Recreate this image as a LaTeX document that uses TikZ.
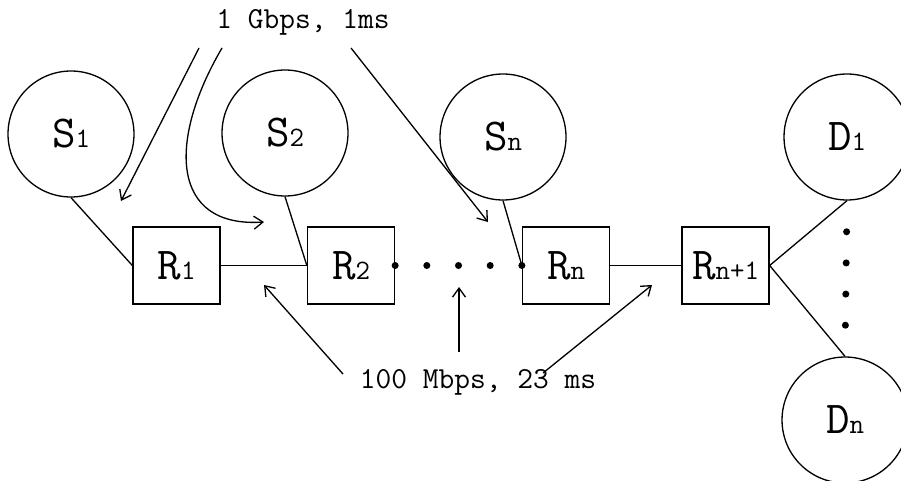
\documentclass[tikz,border=0pt]{standalone}
\usepackage{fontspec}
\usetikzlibrary{calc, arrows.meta}

\tikzset{
  host/.style={draw, circle, minimum size=2.52cm, inner sep=0pt},
  router/.style={draw, rectangle, minimum width=1.74cm, minimum height=1.54cm, inner sep=0pt},
  lbl/.style={font=\ttfamily\fontsize{17.4}{20}\selectfont},
  note/.style={-{Straight Barb[length=1.8mm, width=2.6mm]}},
}
\newcommand{\nodename}[2]{{\ttfamily\fontsize{26}{30}\selectfont #1}{\ttfamily\fontsize{16}{19}\selectfont #2}}

\begin{document}
\begin{tikzpicture}[x=0.02cm, y=-0.02cm, line width=0.75pt]
    \useasboundingbox (0,0) rectangle (901,480);
    % 源节点
    \node[host] (s1) at (71,134) {\nodename{S}{1}};
    \node[host] (s2) at (285,133) {\nodename{S}{2}};
    \node[host] (sn) at (503,137) {\nodename{S}{n}};
    % 路由器
    \node[router] (r1) at (176.5,265.5) {\nodename{R}{1}};
    \node[router] (r2) at (351,265.5) {\nodename{R}{2}};
    \node[router] (rn) at (566,265.5) {\nodename{R}{n}};
    \node[router] (rn1) at (725.5,265.5) {\nodename{R}{n+1}};
    % 目的节点
    \node[host] (d1) at (847,137) {\nodename{D}{1}};
    \node[host] (dn) at (845,420) {\nodename{D}{n}};
    % 链路
    \draw (s1.south) -- (r1.west);
    \draw (s2.south) -- (r2.west);
    \draw (sn.south) -- (rn.west);
    \draw (r1.east) -- (r2.west);
    \draw (rn.east) -- (rn1.west);
    \draw (rn1.east) -- (d1.south);
    \draw (rn1.east) -- (dn.north);
    % 省略号
    \foreach \t in {0,0.25,...,1} {
      \fill ($(r2.east)!\t!(rn.west)$) circle[radius=2pt];
    }
    \foreach \t in {0.2,0.4,...,0.8} {
      \fill ($(d1.south)!\t!(dn.north)$) circle[radius=2pt];
    }
    % 接入链路说明
    \node[lbl] (gbps) at (303,22) {1 Gbps, 1ms};
    \coordinate (g1) at (199,48);
    \coordinate (g2) at (222,48);
    \coordinate (g3) at (351,48);
    \coordinate (a1) at (121,201);
    \coordinate (a2) at (264,222);
    \coordinate (a3) at (488,222);
    \draw[note] (g1) -- (a1);
    \draw[note] (g2) .. controls (168,140) and (170,228) .. (a2);
    \draw[note] (g3) -- (a3);
    % 瓶颈链路说明
    \node[lbl] (mbps) at (478,382) {100 Mbps, 23 ms};
    \coordinate (m1) at (343,374);
    \coordinate (m2) at (459,352);
    \coordinate (m3) at (543,373);
    \coordinate (b1) at (264,285);
    \coordinate (b2) at (459,287);
    \coordinate (b3) at (652,285);
    \draw[note] (m1) -- (b1);
    \draw[note] (m2) -- (b2);
    \draw[note] (m3) -- (b3);
  \end{tikzpicture}
\end{document}
